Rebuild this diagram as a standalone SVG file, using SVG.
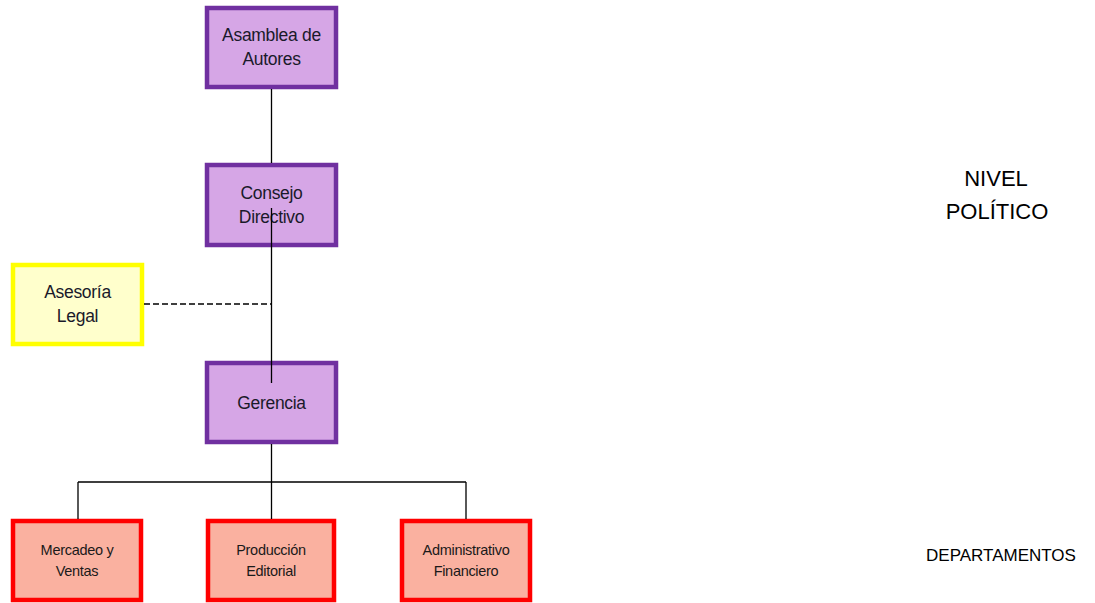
<svg xmlns="http://www.w3.org/2000/svg" width="1095" height="603" viewBox="0 0 1095 603">
<style>
.p{fill:#D6A6E6;stroke:#7030A0;stroke-width:4.5}
.y{fill:#FFFFCC;stroke:#FFFF00;stroke-width:4.5}
.r{fill:#FAB1A0;stroke:#FF0000;stroke-width:4.5}
.t{font-family:"Liberation Sans",Arial,sans-serif;font-size:17.5px;fill:#1a1a2a;text-anchor:middle;letter-spacing:-0.3px}
.s{font-family:"Liberation Sans",Arial,sans-serif;font-size:14.5px;fill:#1a1a1a;text-anchor:middle;letter-spacing:-0.3px}
.l{font-family:"Liberation Sans",Arial,sans-serif;font-size:22px;fill:#000;text-anchor:middle}
.c{stroke:#000;stroke-width:1.3;fill:none}
.d{stroke:#000;stroke-width:1.3;fill:none;stroke-dasharray:6 3}
</style>
<rect width="1095" height="603" fill="#fff"/>
<g id="asamblea"><rect class="p" x="207" y="8" width="129" height="79"/><text class="t" x="271.5" y="41">Asamblea de</text><text class="t" x="271.5" y="65">Autores</text></g>
<g id="consejo"><rect class="p" x="207" y="165" width="129" height="80"/><text class="t" x="271.5" y="199">Consejo</text><text class="t" x="271.5" y="223">Directivo</text></g>
<g id="asesoria"><rect class="y" x="13" y="265" width="129" height="79"/><text class="t" x="77.5" y="298">Asesoría</text><text class="t" x="77.5" y="322">Legal</text></g>
<g id="gerencia"><rect class="p" x="207" y="363" width="129" height="79"/><text class="t" x="271.5" y="409">Gerencia</text></g>
<g id="mercadeo"><rect class="r" x="13" y="521" width="128" height="79"/><text class="s" x="77" y="555">Mercadeo y</text><text class="s" x="77" y="576">Ventas</text></g>
<g id="produccion"><rect class="r" x="208" y="521" width="126" height="79"/><text class="s" x="271" y="555">Producción</text><text class="s" x="271" y="576">Editorial</text></g>
<g id="administrativo"><rect class="r" x="402" y="521" width="128" height="79"/><text class="s" x="466" y="555">Administrativo</text><text class="s" x="466" y="576">Financiero</text></g>
<g id="connectors">
<path class="c" d="M271.5 89V163M271.5 208V383M271.5 444V519M78 482H466M78 482V519M466 482V519"/>
<path class="d" d="M144 304H271.5"/>
</g>
<g id="labels">
<text class="l" x="996" y="186">NIVEL</text>
<text class="l" x="997" y="219">POLÍTICO</text>
<text class="l" x="1001" y="561" style="font-size:17px">DEPARTAMENTOS</text>
</g>
</svg>
